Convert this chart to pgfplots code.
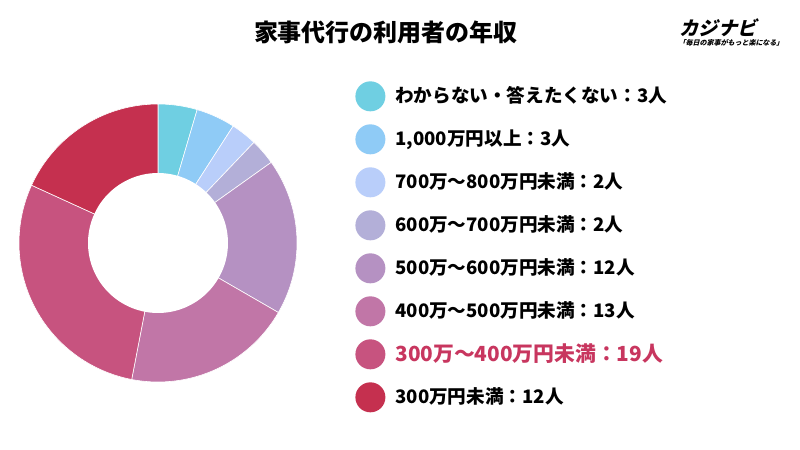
\documentclass[border=0pt]{standalone}
\usepackage{pgfplots}
\pgfplotsset{compat=1.18}
\usepackage{fontspec}
\setmainfont{Noto Sans CJK JP}
\newfontfamily\logofont{Noto Sans CJK JP}[FakeSlant=0.25]
\definecolor{c1}{HTML}{6FCFE2}
\definecolor{c2}{HTML}{8FCBF6}
\definecolor{c3}{HTML}{B9CEFA}
\definecolor{c4}{HTML}{B3AFD8}
\definecolor{c5}{HTML}{B591C2}
\definecolor{c6}{HTML}{C176A7}
\definecolor{c7}{HTML}{C7537F}
\definecolor{c8}{HTML}{C5304F}
\definecolor{hl}{HTML}{C8365F}
% values (people): 3, 3, 2, 2, 12, 13, 19, 12  (total 66)
\def\vA{3}\def\vB{3}\def\vC{2}\def\vD{2}\def\vE{12}\def\vF{13}\def\vG{19}\def\vH{12}
\pgfmathsetmacro\total{\vA+\vB+\vC+\vD+\vE+\vF+\vG+\vH}
\pgfmathsetmacro\cA{0}
\pgfmathsetmacro\cB{\cA+\vA}
\pgfmathsetmacro\cC{\cB+\vB}
\pgfmathsetmacro\cD{\cC+\vC}
\pgfmathsetmacro\cE{\cD+\vD}
\pgfmathsetmacro\cF{\cE+\vE}
\pgfmathsetmacro\cG{\cF+\vF}
\pgfmathsetmacro\cH{\cG+\vG}
\pgfmathsetmacro\cI{\cH+\vH}
\newcommand\slice[3]{%
  \pgfmathsetmacro\angA{90-(360/\total)*#2}%
  \pgfmathsetmacro\angB{90-(360/\total)*#1}%
  \edef\tmp{\noexpand\addplot[fill=#3, draw=white, line width=0.3pt, domain=\angA:\angB, samples=80, variable=\noexpand\t]}%
  \tmp ({139*cos(\t)},{139*sin(\t)}) -- (axis cs:0,0) -- cycle;
}
\begin{document}
\begin{tikzpicture}
\path[fill=white] (0,0) rectangle (400pt,225pt);
\node[font=\bfseries\fontsize{12}{14}\selectfont] at (193pt,209pt) {家事代行の利用者の年収};
\node[font=\logofont\bfseries\fontsize{9.6}{11}\selectfont] at (359pt,211pt) {カジナビ};
\node[font=\logofont\bfseries\fontsize{3.5}{4}\selectfont, inner sep=0pt] at (365.5pt,203.5pt) {「毎日の家事がもっと楽になる」};
\begin{axis}[
  at={(9.5pt,34pt)}, anchor=south west,
  scale only axis, width=139pt, height=139pt,
  xmin=-139, xmax=139, ymin=-139, ymax=139,
  axis lines=none, clip=false,
  legend cell align=left,
  legend image code/.code={\fill[#1,draw=none] (7.5pt,0pt) circle (7.5pt);},
  legend style={at={(1.2086,1.083)}, anchor=north west, draw=none, fill=none,
    font=\bfseries\fontsize{9.3}{11}\selectfont, row sep=6.5pt, inner sep=0pt,
    /tikz/every odd column/.append style={column sep=3pt}},
]
\slice{\cA}{\cB}{c1}
\addlegendentry{わからない・答えたくない：3人}
\slice{\cB}{\cC}{c2}
\addlegendentry{1,000万円以上：3人}
\slice{\cC}{\cD}{c3}
\addlegendentry{700万〜800万円未満：2人}
\slice{\cD}{\cE}{c4}
\addlegendentry{600万〜700万円未満：2人}
\slice{\cE}{\cF}{c5}
\addlegendentry{500万〜600万円未満：12人}
\slice{\cF}{\cG}{c6}
\addlegendentry{400万〜500万円未満：13人}
\slice{\cG}{\cH}{c7}
\addlegendentry{\textcolor{hl}{\fontsize{10.4}{12}\selectfont 300万〜400万円未満：19人}}
\slice{\cH}{\cI}{c8}
\addlegendentry{300万円未満：12人}
\addplot[fill=white, draw=none, domain=0:360, samples=120, forget plot] ({70*cos(x)},{70*sin(x)}) -- cycle;
\end{axis}
\end{tikzpicture}
\end{document}
